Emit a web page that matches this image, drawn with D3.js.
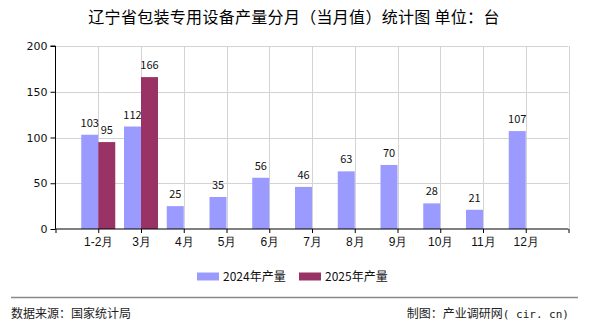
<!DOCTYPE html>
<html>
<head>
<meta charset="utf-8">
<script src="https://cdn.jsdelivr.net/npm/d3@7"></script>
<style>
  body { margin: 0; background: #fff; }
  svg { display: block; font-family: "Noto Sans CJK SC", "DejaVu Sans", sans-serif; }
</style>
</head>
<body>
<svg id="chart" width="590" height="330"></svg>
<script>
// Monthly output, units: 台
const months = ["1-2月", "3月", "4月", "5月", "6月", "7月", "8月", "9月", "10月", "11月", "12月"];
const values2024 = [103, 112, 25, 35, 56, 46, 63, 70, 28, 21, 107];
const values2025 = [95, 166];
const yTicks = [0, 50, 100, 150, 200];
const seriesNames = ["2024年产量", "2025年产量"];
const colors = ["#9b9bff", "#993366"];

const svg = d3.select("#chart");
const plot = { left: 55.5, right: 568.5, top: 46, bottom: 229 };

// Category slots sit on the grid lines, with one empty slot at each end
const x = d3.scaleLinear().domain([0, months.length + 1]).range([plot.left, plot.right]);
const y = d3.scaleLinear().domain([0, 200]).range([plot.bottom, plot.top]);
const barW = 17;

svg.append("text")
  .attr("x", 294).attr("y", 23)
  .attr("text-anchor", "middle")
  .attr("font-size", 16)
  .attr("letter-spacing", 0.3)
  .attr("fill", "#000")
  .text("辽宁省包装专用设备产量分月（当月值）统计图 单位：台");

// Grid
const grid = svg.append("g").attr("stroke", "#d3d3d3").attr("stroke-width", 1);
yTicks.filter(d => d > 0).forEach(t => {
  grid.append("line").attr("x1", plot.left).attr("x2", plot.right)
    .attr("y1", Math.round(y(t)) + 0.5).attr("y2", Math.round(y(t)) + 0.5);
});
d3.range(1, months.length + 2).forEach(i => {
  grid.append("line").attr("x1", Math.round(x(i)) + 0.5).attr("x2", Math.round(x(i)) + 0.5)
    .attr("y1", plot.top).attr("y2", plot.bottom);
});

// Bars
const bars = svg.append("g");
values2024.forEach((v, i) => {
  bars.append("rect")
    .attr("x", x(i + 1) - barW).attr("width", barW)
    .attr("y", y(v)).attr("height", y(0) - y(v))
    .attr("fill", colors[0]);
});
values2025.forEach((v, i) => {
  bars.append("rect")
    .attr("x", x(i + 1)).attr("width", barW)
    .attr("y", y(v)).attr("height", y(0) - y(v))
    .attr("fill", colors[1]);
});

// Value labels
const labels = svg.append("g").attr("font-size", 11).attr("fill", "#111").attr("text-anchor", "middle");
values2024.forEach((v, i) => {
  labels.append("text").attr("x", x(i + 1) - barW / 2).attr("y", y(v) - 8).text(v);
});
values2025.forEach((v, i) => {
  labels.append("text").attr("x", x(i + 1) + barW / 2).attr("y", y(v) - 8).text(v);
});

// Y axis
const yAxis = d3.axisLeft(y).tickValues(yTicks).tickSize(5).tickPadding(3);
const gy = svg.append("g").attr("transform", `translate(${plot.left},0)`).call(yAxis);
gy.selectAll("text").attr("font-size", 11).attr("fill", "#111").attr("font-family", "DejaVu Sans, sans-serif");
gy.select(".domain").attr("stroke", "#000").attr("d", `M-5,${plot.top}H0V${plot.bottom}`);

// X axis
const xAxis = d3.axisBottom(x)
  .tickValues(d3.range(0, months.length + 2))
  .tickSize(4).tickPadding(4)
  .tickFormat(i => (i >= 1 && i <= months.length) ? months[i - 1] : "");
const gx = svg.append("g").attr("transform", `translate(0,${plot.bottom})`).call(xAxis);
gx.selectAll("text").attr("font-size", 12).attr("fill", "#111");
gx.select(".domain").attr("stroke", "#000").attr("d", `M${plot.left},0H${plot.right}`);

// Legend
const legend = svg.append("g").attr("font-size", 12).attr("fill", "#111");
[197, 299].forEach((lx, k) => {
  legend.append("rect").attr("x", lx).attr("y", 272.5).attr("width", 22).attr("height", 8).attr("fill", colors[k]);
  legend.append("text").attr("x", lx + 26).attr("y", 281).text(seriesNames[k]);
});

// Footer
svg.append("line").attr("x1", 11).attr("x2", 578).attr("y1", 297.5).attr("y2", 297.5)
  .attr("stroke", "#888").attr("stroke-width", 1.5);
svg.append("text").attr("x", 11).attr("y", 318).attr("font-size", 12).attr("fill", "#222")
  .text("数据来源：国家统计局");
const credit = svg.append("text").attr("x", 569).attr("y", 318).attr("font-size", 12).attr("fill", "#222")
  .attr("text-anchor", "end");
credit.append("tspan").text("制图：产业调研网");
credit.append("tspan").attr("font-family", "DejaVu Sans Mono, monospace").attr("font-size", 11)
  .text("( cir. cn)");
</script>
</body>
</html>
